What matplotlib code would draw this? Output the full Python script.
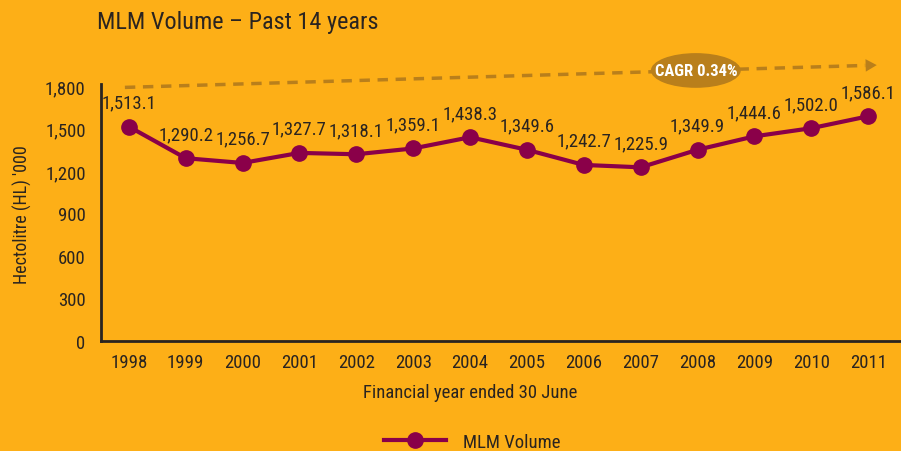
import matplotlib
matplotlib.use("Agg")
import matplotlib.pyplot as plt
from matplotlib.patches import Ellipse
from matplotlib import font_manager as fm

years = ["1998", "1999", "2000", "2001", "2002", "2003", "2004", "2005",
         "2006", "2007", "2008", "2009", "2010", "2011"]
volume = [1513.1, 1290.2, 1256.7, 1327.7, 1318.1, 1359.1, 1438.3, 1349.6,
          1242.7, 1225.9, 1349.9, 1444.6, 1502.0, 1586.1]
yticks = [0, 300, 600, 900, 1200, 1500, 1800]
cagr_label = "CAGR 0.34%"

BG = "#FDAF17"
LINE = "#8A0049"
DARK = "#2A2420"
GOLD = "#B97F1B"

# pick a condensed face if one is installed
fam, stretch = 'DejaVu Sans', 'normal'
prefs = ['robotocondensed-regular', 'roboto_condensed', 'opensanscondensed',
         'opensans_condensed', 'dejavusanscondensed.ttf', 'liberationsansnarrow-regular',
         'condensed', 'narrow']
entries = fm.fontManager.ttflist
found = False
for p in prefs:
    for f in entries:
        if p in f.fname.lower().replace(' ', '') and f.style == 'normal':
            fam, stretch = f.name, f.stretch
            found = True
            break
    if found:
        break
plt.rcParams['font.family'] = [fam, 'DejaVu Sans']
plt.rcParams['font.stretch'] = stretch

fig = plt.figure(figsize=(9.01, 4.52), dpi=100, facecolor=BG)
ax = fig.add_axes([101/901, 1-342/452, 799/901, 257/452])
ax.set_facecolor(BG)

x = list(range(len(years)))
ax.plot(x, volume, color=LINE, lw=3, marker='o', ms=11, zorder=3,
        label="MLM Volume")

for xi, v in zip(x, volume):
    ax.annotate(f"{v:,.1f}", (xi, v), xytext=(0, 11), textcoords='offset points',
                ha='center', va='bottom', fontsize=13.5, color=DARK)

ax.set_xlim(-0.49, 13.56)
ax.set_ylim(0, 1814)
ax.set_xticks(x)
ax.set_xticklabels(years)
ax.set_yticks(yticks)
ax.set_yticklabels([f"{t:,}" for t in yticks])
ax.tick_params(length=0, labelsize=13.5, colors=DARK, pad=9)
ax.tick_params(axis='y', pad=11)
for s in ['top', 'right']:
    ax.spines[s].set_visible(False)
for s in ['left', 'bottom']:
    ax.spines[s].set_color(DARK)
    ax.spines[s].set_linewidth(2)

ax.set_xlabel("Financial year ended 30 June", fontsize=13.5, color=DARK)
ax.xaxis.set_label_coords((470-101)/799, -(384-342)/257)
ax.set_ylabel("Hectolitre (HL) '000", fontsize=13, color=DARK)
ax.yaxis.set_label_coords(-(101-32)/799, (342-215)/257)

# CAGR dashed arrow
x0, y0 = -0.07, 1790
x1, y1 = 12.95, 1945
ax.plot([x0, x1], [y0, y1], ls=(0, (3, 2.2)), color=GOLD, lw=2.5, clip_on=False, zorder=1)
ax.annotate("", xy=(13.2, 1948), xytext=(12.85, 1944),
            arrowprops=dict(arrowstyle='-|>,head_length=0.8,head_width=0.45',
                            color=GOLD, lw=0), annotation_clip=False)
xm = 9.97
ym = y0 + (y1 - y0) * (xm - x0) / (x1 - x0)
ell = Ellipse((xm, ym), width=1.58, height=245, facecolor=GOLD, edgecolor='none',
              clip_on=False, zorder=2)
ax.add_patch(ell)
ax.text(xm, ym, cagr_label, ha='center', va='center', fontsize=12, color='white',
        fontweight='bold', zorder=3, clip_on=False)

fig.text(97/901, 1-22/452, "MLM Volume \u2013 Past 14 years", fontsize=17.5,
         color=DARK, ha='left', va='center')

leg = fig.legend(loc='center', bbox_to_anchor=(472/901, 1-443/452), frameon=False,
                 fontsize=13.5, handlelength=3.3, handletextpad=0.9, labelcolor=DARK)

fig.savefig("out.png", dpi=100, facecolor=BG)
